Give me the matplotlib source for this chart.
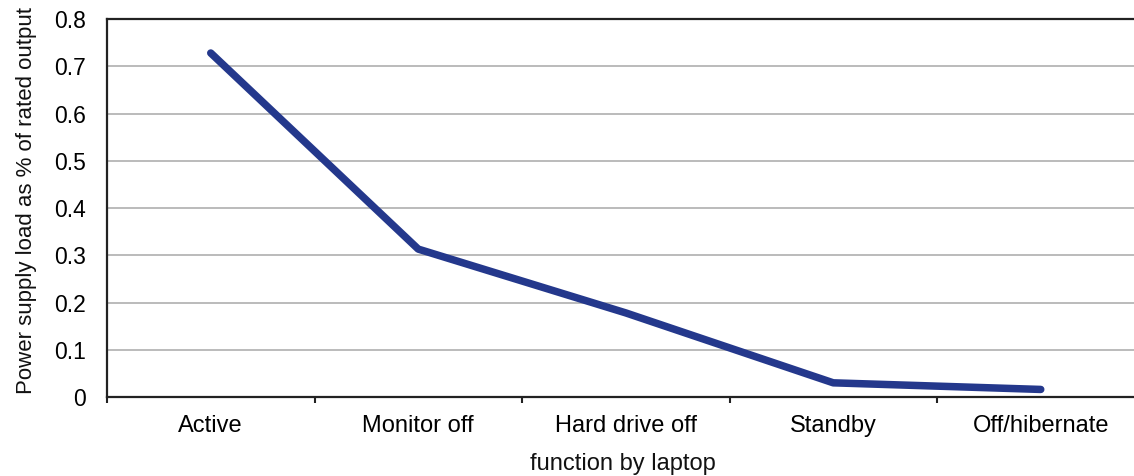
import matplotlib
matplotlib.use("Agg")
import matplotlib.pyplot as plt
import numpy as np

# values
functions = ["Active", "Monitor off", "Hard drive off", "Standby", "Off/hibernate"]
load = [0.728, 0.313, 0.178, 0.030, 0.016]
yticks = [0, 0.1, 0.2, 0.3, 0.4, 0.5, 0.6, 0.7, 0.8]

plt.rcParams['font.family'] = ['Liberation Sans', 'DejaVu Sans']

W, H = 1134, 476
fig = plt.figure(figsize=(W / 100, H / 100), dpi=100)

# axes runs past the right edge of the figure, as in the original
left, right, top, bottom = 107, 1144.5, 19, 397
ax = fig.add_axes([left / W, 1 - bottom / H, (right - left) / W, (bottom - top) / H])

x = np.arange(len(functions))
ax.plot(x, load, color='#24388c', lw=5.4, solid_capstyle='round', solid_joinstyle='round', zorder=3)

ax.set_xlim(-0.5, len(functions) - 0.5)
ax.set_ylim(0, 0.8)

# category boundaries get the tick marks, centres get the labels
ax.set_xticks(np.arange(-0.5, len(functions), 1.0))
ax.set_xticklabels([])
ax.set_xticks(x, minor=True)
ax.set_xticklabels(functions, minor=True, fontsize=17)
ax.tick_params(axis='x', which='major', direction='out', length=4.5, width=1.5, color='#222222')
ax.tick_params(axis='x', which='minor', length=0, pad=13)

ax.set_yticks(yticks)
ax.set_yticklabels(["0" if v == 0 else "%.1f" % v for v in yticks], fontsize=16.5)
ax.tick_params(axis='y', length=0, pad=15)

ax.grid(axis='y', color='#a8a8a8', lw=1.1)
ax.set_axisbelow(True)

for s in ['left', 'top', 'bottom', 'right']:
    ax.spines[s].set_color('#222222')
    ax.spines[s].set_linewidth(1.6)

fig.text(27 / W, 1 - 200 / H, "Power supply load as % of rated output", rotation=90,
         ha='center', va='center', fontsize=16, color='#111111')
fig.text(623 / W, 1 - 464 / H, "function by laptop", ha='center', va='center',
         fontsize=17, color='#111111')

fig.savefig("out.png", dpi=100)
